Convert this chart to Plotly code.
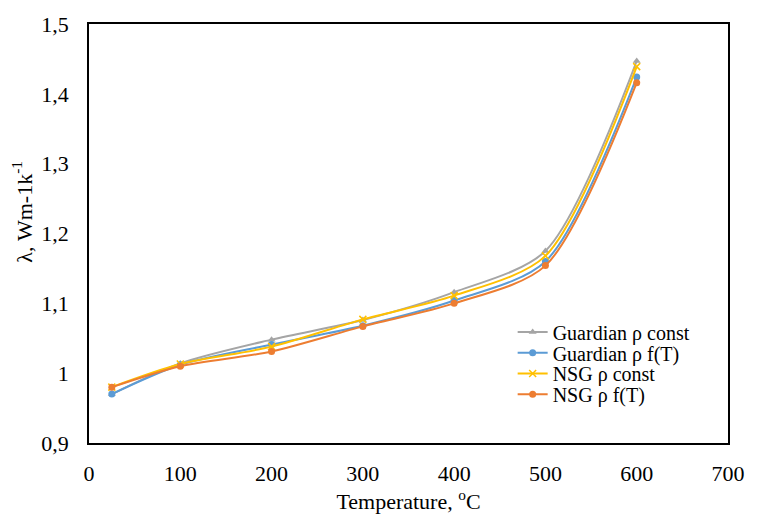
import plotly.graph_objects as go

# Temperature points (°C)
temperature = [25, 100, 200, 300, 400, 500, 600]

# Thermal conductivity λ (W m-1 K-1) for each glass / density model
guardian_const = [0.970, 1.014, 1.048, 1.076, 1.116, 1.175, 1.447]
guardian_fT = [0.970, 1.012, 1.041, 1.068, 1.104, 1.160, 1.424]
nsg_const = [0.980, 1.013, 1.038, 1.077, 1.111, 1.168, 1.439]
nsg_fT = [0.980, 1.010, 1.031, 1.067, 1.100, 1.154, 1.416]

series_names = ["Guardian ρ const", "Guardian ρ f(T)", "NSG ρ const", "NSG ρ f(T)"]
series_values = [guardian_const, guardian_fT, nsg_const, nsg_fT]
series_colors = ["#A5A5A5", "#5B9BD5", "#FFC000", "#ED7D31"]
series_symbols = ["triangle-up", "circle", "x-thin", "circle"]

x_ticks = [0, 100, 200, 300, 400, 500, 600, 700]
y_ticks = [0.9, 1.0, 1.1, 1.2, 1.3, 1.4, 1.5]
y_tick_labels = ["0,9", "1", "1,1", "1,2", "1,3", "1,4", "1,5"]

FONT = "Liberation Serif"
LEGEND_FONT = 20
AXIS_FONT = 22

# One compact legend per series so the entries sit close together
legend_ids = ["legend", "legend2", "legend3", "legend4"]
legend_rows = [0.265, 0.2155, 0.166, 0.1165]

fig = go.Figure()
for name, vals, color, sym, lg in zip(series_names, series_values, series_colors,
                                       series_symbols, legend_ids):
    fig.add_trace(go.Scatter(
        x=temperature, y=vals, name=name, legend=lg,
        mode="lines+markers",
        line=dict(color=color, width=2, shape="spline", smoothing=0.8),
        marker=dict(symbol=sym, size=7, color=color,
                    line=dict(color=color, width=1.5 if sym == "x-thin" else 0)),
    ))

legend_layout = {}
for lg, yrow in zip(legend_ids, legend_rows):
    legend_layout[lg] = dict(
        x=0.663, y=yrow, xanchor="left", yanchor="middle",
        bgcolor="rgba(0,0,0,0)", borderwidth=0,
        font=dict(family=FONT, size=LEGEND_FONT, color="#000000"),
        itemwidth=30, tracegroupgap=0,
    )

fig.update_layout(
    width=757, height=518,
    margin=dict(l=89, r=19, t=16, b=68),
    paper_bgcolor="white", plot_bgcolor="white",
    font=dict(family=FONT, size=AXIS_FONT, color="#000000"),
    showlegend=True,
    xaxis=dict(
        range=[0, 700], tickvals=x_ticks, showgrid=False, zeroline=False,
        showline=True, linecolor="#000000", linewidth=1.5, mirror=True,
        ticks="", ticklabelstandoff=10,
        tickfont=dict(family=FONT, size=AXIS_FONT),
        title=dict(text="Temperature, <sup>o</sup>C", standoff=4,
                   font=dict(family=FONT, size=AXIS_FONT)),
    ),
    yaxis=dict(
        range=[0.9, 1.5], tickvals=y_ticks, ticktext=y_tick_labels,
        showgrid=False, zeroline=False,
        showline=True, linecolor="#000000", linewidth=1.5, mirror=True,
        ticks="", ticklabelstandoff=14,
        tickfont=dict(family=FONT, size=AXIS_FONT),
    ),
    annotations=[dict(
        text="λ, Wm-1k<sup>-1</sup>", textangle=-90,
        xref="paper", yref="paper", x=-0.104, y=0.551,
        xanchor="center", yanchor="middle", showarrow=False,
        font=dict(family=FONT, size=AXIS_FONT, color="#000000"),
    )],
    **legend_layout,
)

fig.write_html("out.html")
